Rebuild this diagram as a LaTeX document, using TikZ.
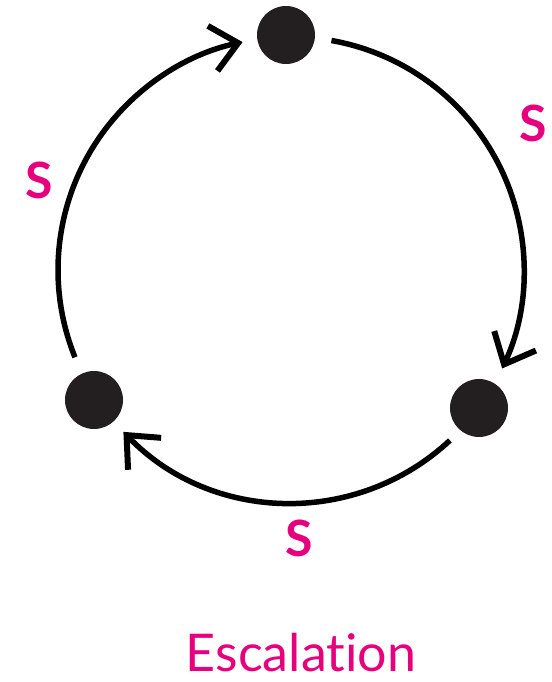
\documentclass[tikz,border=0pt]{standalone}
\usepackage{fontspec}
\setmainfont[Ligatures=NoCommon]{Lato}
\usetikzlibrary{arrows.meta}
\definecolor{mag}{RGB}{230,0,126}
\definecolor{dotc}{RGB}{35,31,32}
\begin{document}
\begin{tikzpicture}[x=1pt,y=1pt,
  dotnode/.style={circle,fill=dotc,minimum size=58pt,inner sep=0pt},
  cyc/.style={line width=5.5pt,-{Straight Barb[length=26pt,width=46pt,line width=6pt]}},
  lab/.style={text=mag,anchor=base,inner sep=0pt,font=\fontsize{50}{50}\selectfont\bfseries},
  title/.style={text=mag,anchor=base,inner sep=0pt,font=\fontsize{52}{52}\selectfont}]
\useasboundingbox (0,0) rectangle (551,682);
\coordinate (c) at (291,412);
\node[dotnode] (top) at (286,647) {};
\node[dotnode] (br) at (479,274) {};
\node[dotnode] (lf) at (94,282) {};
\path (c) ++(80:233) coordinate (a1);
\path (c) ++(-47:233) coordinate (a2);
\path (c) ++(202:233) coordinate (a3);
\draw[cyc] (a1) arc[start angle=80,end angle=-25,radius=233];
\draw[cyc] (a2) arc[start angle=-47,end angle=-136,radius=233];
\draw[cyc] (a3) arc[start angle=202,end angle=102,radius=233];
\node[lab] (s1) at (533,540) {S};
\node[lab] (s2) at (39,483) {S};
\node[lab] (s3) at (299,125) {S};
\node[title] (t) at (301,10) {Escalation};
\end{tikzpicture}
\end{document}
